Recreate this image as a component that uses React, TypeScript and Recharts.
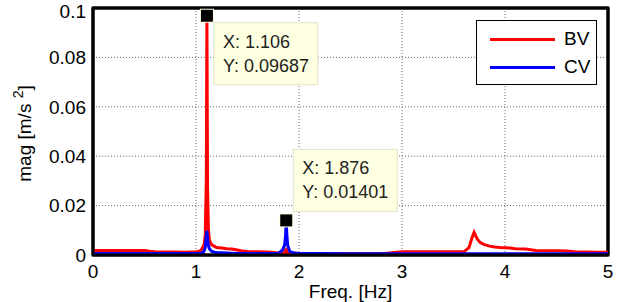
import { CartesianGrid, Legend, Line, LineChart, ReferenceArea, ReferenceDot, ReferenceLine, XAxis, YAxis } from "recharts"

// frequency grid [Hz]
const freq = [
  0, 0.1, 0.2, 0.3, 0.4, 0.5, 0.55, 0.6, 0.7, 0.8, 0.9, 0.95, 1.0, 1.03, 1.05, 1.07, 1.08, 1.09, 1.1, 1.106,
  1.112, 1.12, 1.13, 1.15, 1.18, 1.2, 1.25, 1.3, 1.35, 1.4, 1.45, 1.5, 1.6, 1.7, 1.8, 1.84, 1.86, 1.87, 1.876,
  1.882, 1.89, 1.91, 1.95, 2.0, 2.2, 2.5, 2.8, 3.0, 3.2, 3.4, 3.5, 3.6, 3.65, 3.68, 3.7, 3.73, 3.76, 3.8, 3.85,
  3.9, 3.95, 4.0, 4.05, 4.1, 4.2, 4.3, 4.4, 4.5, 4.6, 4.7, 4.8, 4.9, 5.0,
]

// magnitude [m/s^2]
const bv = [
  0.0018, 0.0018, 0.0018, 0.0018, 0.0018, 0.0018, 0.0015, 0.0013, 0.0012, 0.0012, 0.0011, 0.0012, 0.0013, 0.0015,
  0.002, 0.0035, 0.0045, 0.008, 0.03, 0.09687, 0.028, 0.011, 0.006, 0.0042, 0.0035, 0.003, 0.0028, 0.0025, 0.0024,
  0.002, 0.0016, 0.0014, 0.0013, 0.0012, 0.0008, 0.0006, 0.001, 0.0018, 0.0022, 0.0018, 0.001, 0.0006, 0.0008,
  0.0006, 0.0005, 0.0005, 0.0005, 0.0013, 0.0013, 0.0013, 0.0013, 0.0013, 0.003, 0.007, 0.0092, 0.0065, 0.005,
  0.0042, 0.0036, 0.0032, 0.003, 0.0029, 0.0028, 0.0025, 0.0024, 0.0018, 0.0017, 0.0017, 0.0016, 0.0012, 0.0012,
  0.0011, 0.0011,
]

const cv = [
  0.0006, 0.0006, 0.0006, 0.0006, 0.0006, 0.0006, 0.0006, 0.0006, 0.0006, 0.0006, 0.0006, 0.0006, 0.0006, 0.0007,
  0.0008, 0.001, 0.0018, 0.003, 0.008, 0.0098, 0.007, 0.004, 0.0025, 0.0015, 0.0011, 0.001, 0.0009, 0.0008, 0.0007,
  0.0006, 0.0006, 0.0006, 0.0006, 0.0006, 0.0006, 0.002, 0.004, 0.008, 0.01401, 0.008, 0.004, 0.0015, 0.0008,
  0.0006, 0.0006, 0.0005, 0.0005, 0.0005, 0.0005, 0.0005, 0.0005, 0.0005, 0.0005, 0.0005, 0.0005, 0.0005, 0.0005,
  0.0005, 0.0005, 0.0005, 0.0005, 0.0005, 0.0005, 0.0005, 0.0005, 0.0005, 0.0005, 0.0005, 0.0005, 0.0005, 0.0005,
  0.0005, 0.0005,
]

const xTicks = [0, 1, 2, 3, 4, 5]
const yTicks = [0, 0.02, 0.04, 0.06, 0.08, 0.1]

// data cursor points
const tipX = [1.106, 1.876]
const tipY = [0.09687, 0.01401]
const tipText = [
  ["X: 1.106", "Y: 0.09687"],
  ["X: 1.876", "Y: 0.01401"],
]

const data = freq.map((f, i) => ({ f, bv: bv[i], cv: cv[i] }))

const font = "'Liberation Sans', Arial, sans-serif"

// where each tip box sits relative to its marker
const tipBoxOffset = [
  [7, 7],
  [7, -71],
]

function DataTip(props: any) {
  const { cx, cy, idx } = props
  const [dx, dy] = tipBoxOffset[idx]
  const bx = cx + dx
  const by = cy + dy
  return (
    <g>
      <rect x={cx - 7} y={cy - 7} width={14} height={14} fill="#ffffe1" />
      <rect x={cx - 6} y={cy - 6} width={12} height={12} fill="#000" />
      <rect x={bx} y={by} width={104} height={62} fill="#ffffe1" stroke="#e4e2c8" strokeWidth={1} />
      <text x={bx + 9} y={by + 25} fontSize={18} fontFamily={font} fill="#222">
        {tipText[idx][0]}
      </text>
      <text x={bx + 9} y={by + 49} fontSize={18} fontFamily={font} fill="#222">
        {tipText[idx][1]}
      </text>
    </g>
  )
}

function YLabel(props: any) {
  const { viewBox } = props
  const x = 31
  const y = viewBox.y + viewBox.height / 2 + 2
  return (
    <text x={x} y={y} transform={`rotate(-90, ${x}, ${y})`} textAnchor="middle" fontSize={19} fontFamily={font} fill="#000">
      mag [m/s <tspan dy={-8} fontSize={14}>2</tspan>
      <tspan dy={8}>]</tspan>
    </text>
  )
}

function LegendBox(props: any) {
  const items = props.payload || []
  return (
    <div style={{ width: 121, height: 65, boxSizing: "border-box", border: "1px solid #000", background: "#fff", position: "relative" }}>
      {items.map((it: any, i: number) => (
        <div key={it.value} style={{ position: "absolute", left: 0, top: 6 + i * 28, height: 24, width: 119 }}>
          <div style={{ position: "absolute", left: 13, top: 11, width: 65, height: 3, background: it.color }} />
          <span style={{ position: "absolute", left: 87, top: 1, fontSize: 19, fontFamily: font, color: "#000" }}>{it.value}</span>
        </div>
      ))}
    </div>
  )
}

const boxLine = { stroke: "#000", strokeWidth: 3 }

export default function App() {
  return (
    <div style={{ position: "absolute", left: 0, top: 0, background: "#fff" }}>
      <LineChart width={620} height={302} data={data} margin={{ top: 8, right: 12, bottom: 0, left: 0 }}>
        <CartesianGrid stroke="#6a6a6a" strokeDasharray="1 2" />
        <XAxis
          dataKey="f"
          type="number"
          domain={[0, 5]}
          ticks={xTicks}
          height={47}
          tickLine={false}
          tickSize={0}
          tickMargin={10}
          axisLine={boxLine}
          tick={{ fill: "#000", fontSize: 19, fontFamily: font }}
          label={{ value: "Freq. [Hz]", position: "insideBottom", offset: 4, fill: "#000", fontSize: 19, fontFamily: font }}
        />
        <YAxis
          type="number"
          domain={[0, 0.1]}
          ticks={yTicks}
          width={93}
          tickLine={false}
          tickSize={0}
          tickMargin={7}
          axisLine={boxLine}
          tick={{ fill: "#000", fontSize: 19, fontFamily: font }}
          label={<YLabel />}
        />
        {/* axes box */}
        <ReferenceArea x1={0} x2={5} y1={0} y2={0.1} ifOverflow="visible" fill="none" fillOpacity={0} stroke="#000" strokeWidth={3} />
        <ReferenceLine y={0.1} ifOverflow="visible" stroke="#000" strokeWidth={3} />
        <ReferenceLine x={5} ifOverflow="visible" stroke="#000" strokeWidth={3} />
        <Legend
          layout="horizontal"
          verticalAlign="middle"
          align="center"
          content={<LegendBox />}
          wrapperStyle={{ left: 476, top: 20, width: 121, height: 65 }}
        />
        <Line dataKey="bv" name="BV" stroke="#ff0000" strokeWidth={3} dot={false} type="linear" isAnimationActive={false} />
        <Line dataKey="cv" name="CV" stroke="#0000ff" strokeWidth={3} dot={false} type="linear" isAnimationActive={false} />
        {tipX.map((x, i) => (
          <ReferenceDot key={i} x={x} y={tipY[i]} r={6} shape={(p: any) => <DataTip {...p} idx={i} />} />
        ))}
      </LineChart>
    </div>
  )
}
